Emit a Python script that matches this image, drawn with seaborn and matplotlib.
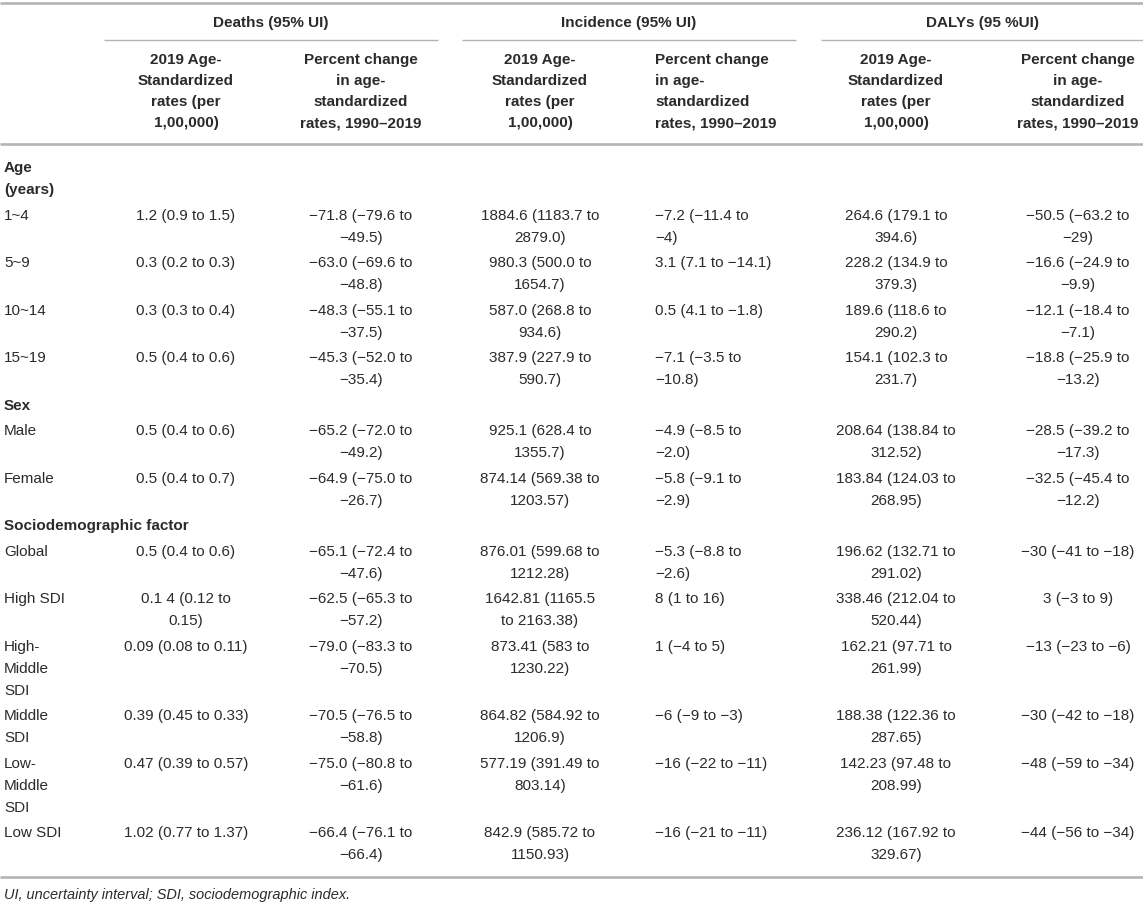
import pandas as pd
import matplotlib.pyplot as plt
import seaborn as sns

# Table content
group_titles = ['Deaths (95% UI)', 'Incidence (95% UI)', 'DALYs (95 %UI)']
rate_header = '2019 Age-\nStandardized\nrates (per\n1,00,000)'
change_header = 'Percent change\nin age-\nstandardized\nrates, 1990\u20132019'

sections = ['Age\n(years)', 'Sex', 'Sociodemographic factor']
section_start = [0, 4, 6]

labels = ['1~4', '5~9', '10~14', '15~19', 'Male', 'Female', 'Global', 'High SDI',
          'High-\nMiddle\nSDI', 'Middle\nSDI', 'Low-\nMiddle\nSDI', 'Low SDI']

deaths_rate = ['1.2 (0.9 to 1.5)', '0.3 (0.2 to 0.3)', '0.3 (0.3 to 0.4)', '0.5 (0.4 to 0.6)',
               '0.5 (0.4 to 0.6)', '0.5 (0.4 to 0.7)', '0.5 (0.4 to 0.6)', '0.1 4 (0.12 to\n0.15)',
               '0.09 (0.08 to 0.11)', '0.39 (0.45 to 0.33)', '0.47 (0.39 to 0.57)', '1.02 (0.77 to 1.37)']
deaths_change = ['\u221271.8 (\u221279.6 to\n\u221249.5)', '\u221263.0 (\u221269.6 to\n\u221248.8)',
                 '\u221248.3 (\u221255.1 to\n\u221237.5)', '\u221245.3 (\u221252.0 to\n\u221235.4)',
                 '\u221265.2 (\u221272.0 to\n\u221249.2)', '\u221264.9 (\u221275.0 to\n\u221226.7)',
                 '\u221265.1 (\u221272.4 to\n\u221247.6)', '\u221262.5 (\u221265.3 to\n\u221257.2)',
                 '\u221279.0 (\u221283.3 to\n\u221270.5)', '\u221270.5 (\u221276.5 to\n\u221258.8)',
                 '\u221275.0 (\u221280.8 to\n\u221261.6)', '\u221266.4 (\u221276.1 to\n\u221266.4)']
incidence_rate = ['1884.6 (1183.7 to\n2879.0)', '980.3 (500.0 to\n1654.7)', '587.0 (268.8 to\n934.6)',
                  '387.9 (227.9 to\n590.7)', '925.1 (628.4 to\n1355.7)', '874.14 (569.38 to\n1203.57)',
                  '876.01 (599.68 to\n1212.28)', '1642.81 (1165.5\nto 2163.38)', '873.41 (583 to\n1230.22)',
                  '864.82 (584.92 to\n1206.9)', '577.19 (391.49 to\n803.14)', '842.9 (585.72 to\n1150.93)']
incidence_change = ['\u22127.2 (\u221211.4 to\n\u22124)', '3.1 (7.1 to \u221214.1)', '0.5 (4.1 to \u22121.8)',
                    '\u22127.1 (\u22123.5 to\n\u221210.8)', '\u22124.9 (\u22128.5 to\n\u22122.0)',
                    '\u22125.8 (\u22129.1 to\n\u22122.9)', '\u22125.3 (\u22128.8 to\n\u22122.6)', '8 (1 to 16)',
                    '1 (\u22124 to 5)', '\u22126 (\u22129 to \u22123)', '\u221216 (\u221222 to \u221211)',
                    '\u221216 (\u221221 to \u221211)']
dalys_rate = ['264.6 (179.1 to\n394.6)', '228.2 (134.9 to\n379.3)', '189.6 (118.6 to\n290.2)',
              '154.1 (102.3 to\n231.7)', '208.64 (138.84 to\n312.52)', '183.84 (124.03 to\n268.95)',
              '196.62 (132.71 to\n291.02)', '338.46 (212.04 to\n520.44)', '162.21 (97.71 to\n261.99)',
              '188.38 (122.36 to\n287.65)', '142.23 (97.48 to\n208.99)', '236.12 (167.92 to\n329.67)']
dalys_change = ['\u221250.5 (\u221263.2 to\n\u221229)', '\u221216.6 (\u221224.9 to\n\u22129.9)',
                '\u221212.1 (\u221218.4 to\n\u22127.1)', '\u221218.8 (\u221225.9 to\n\u221213.2)',
                '\u221228.5 (\u221239.2 to\n\u221217.3)', '\u221232.5 (\u221245.4 to\n\u221212.2)',
                '\u221230 (\u221241 to \u221218)', '3 (\u22123 to 9)', '\u221213 (\u221223 to \u22126)',
                '\u221230 (\u221242 to \u221218)', '\u221248 (\u221259 to \u221234)', '\u221244 (\u221256 to \u221234)']

footnote = 'UI, uncertainty interval; SDI, sociodemographic index.'

df = pd.DataFrame({
    'label': labels,
    'deaths_rate': deaths_rate, 'deaths_change': deaths_change,
    'incidence_rate': incidence_rate, 'incidence_change': incidence_change,
    'dalys_rate': dalys_rate, 'dalys_change': dalys_change,
})
value_cols = ['deaths_rate', 'deaths_change', 'incidence_rate', 'incidence_change',
              'dalys_rate', 'dalys_change']

# Layout (pixels)
W, H = 1143, 905
col_x = [186, 361, 540, 655, 896, 1078]
col_ha = ['center', 'center', 'center', 'left', 'center', 'center']
group_span = [(104, 438), (462, 796), (821, 1143)]
line_h = 22
row_gap = 25.5
rule_color = '#b4b4b4'
text_color = '#2b2b2b'
fs = 11.0

sns.set_theme(style='white')
plt.rcParams['font.family'] = ['Liberation Sans', 'DejaVu Sans']

fig = plt.figure(figsize=(W / 100, H / 100), dpi=100)
ax = fig.add_axes([0, 0, 1, 1])
ax.set_xlim(0, W)
ax.set_ylim(H, 0)
ax.axis('off')


def cell(x, y, s, ha='left', weight='normal', step=line_h, **kw):
    for i, part in enumerate(s.split('\n')):
        ax.text(x, y + i * step, part, ha=ha, va='center', fontsize=fs,
                fontweight=weight, color=text_color, **kw)
    return len(s.split('\n'))


# header
ax.hlines(3, 0, W, color=rule_color, lw=1.9)
for title, (x0, x1) in zip(group_titles, group_span):
    cell((x0 + x1) / 2, 23, title, ha='center', weight='bold')
    ax.hlines(40, x0, x1, color=rule_color, lw=1.0)
for j, (x, ha) in enumerate(zip(col_x, col_ha)):
    cell(x, 60, rate_header if j % 2 == 0 else change_header, ha=ha, weight='bold', step=21)
ax.hlines(144, 0, W, color=rule_color, lw=1.9)

# body
y = 168
for i, row in df.iterrows():
    if i in section_start:
        n = cell(4, y, sections[section_start.index(i)], weight='bold')
        y += (n - 1) * line_h + row_gap
    n = cell(4, y, row['label'])
    for x, ha, c in zip(col_x, col_ha, value_cols):
        n = max(n, cell(x, y, row[c], ha=ha))
    y += (n - 1) * line_h + row_gap

ax.hlines(877, 0, W, color=rule_color, lw=1.9)
ax.text(4, 895, footnote, ha='left', va='center', fontsize=fs * 0.95,
        style='italic', color=text_color)

fig.savefig('out.png', dpi=100)
